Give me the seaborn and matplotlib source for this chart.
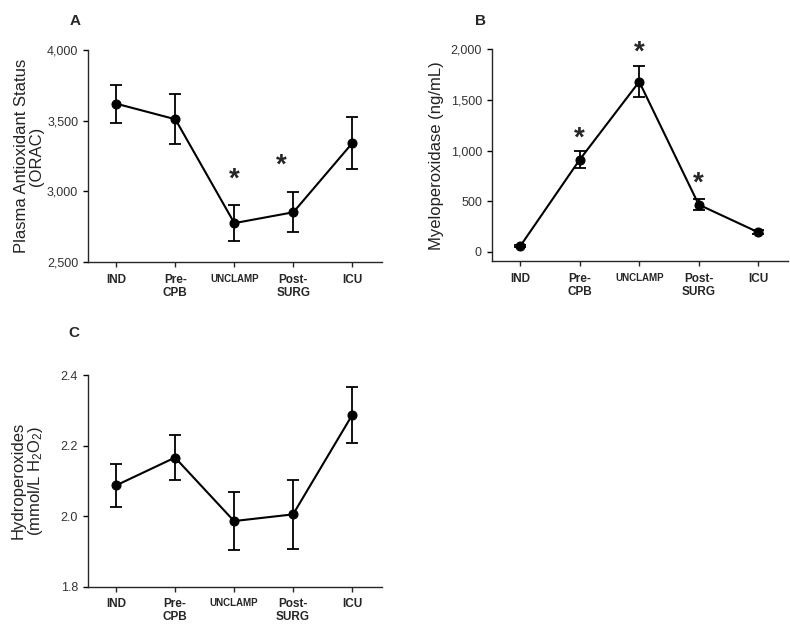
import numpy as np
import pandas as pd
import matplotlib
matplotlib.use("Agg")
import matplotlib.pyplot as plt
from matplotlib.ticker import StrMethodFormatter
import seaborn as sns

# --------------------------------------------------
categories = ["IND", "Pre-\nCPB", "UNCLAMP", "Post-\nSURG", "ICU"]

orac_mean = [3620, 3510, 2775, 2852, 3342]
orac_err = [135, 177, 128, 143, 186]
orac_star = ["UNCLAMP", "Post-\nSURG"]

mpo_mean = [55, 910, 1680, 465, 192]
mpo_err = [12, 85, 155, 53, 20]
mpo_star = ["Pre-\nCPB", "UNCLAMP", "Post-\nSURG"]

hp_mean = [2.087, 2.166, 1.986, 2.005, 2.286]
hp_err = [0.062, 0.064, 0.083, 0.097, 0.080]

sns.set_style("ticks")
plt.rcParams['font.family'] = ['Liberation Sans', 'DejaVu Sans']
plt.rcParams['mathtext.default'] = 'regular'

fig = plt.figure(figsize=(7.9, 6.25), dpi=100)
ax_a = fig.add_axes([0.1114, 0.5808, 0.372, 0.3392])
ax_b = fig.add_axes([0.6224, 0.5824, 0.375, 0.3387])
ax_c = fig.add_axes([0.1110, 0.0613, 0.372, 0.3387])


def draw_panel(ax, mean, err, ylim, yticks, ylabel, fmt, stars=None, star_y=None, star_dx=None):
    df = pd.DataFrame({"time": categories, "value": mean})
    sns.lineplot(data=df, x="time", y="value", ax=ax, color="black", lw=1.5,
                 marker="o", markersize=6.5, markeredgecolor="black", sort=False)
    ax.errorbar(np.arange(len(categories)), mean, yerr=err, fmt="none",
                ecolor="black", elinewidth=1.3, capsize=4, capthick=1.3)
    ax.set_xlim(-0.48, 4.5)
    ax.set_ylim(*ylim)
    ax.set_yticks(yticks)
    ax.yaxis.set_major_formatter(StrMethodFormatter(fmt))
    ax.set_xticks(range(len(categories)))
    ax.set_xticklabels(categories)
    for lab in ax.get_xticklabels():
        lab.set_fontweight("bold")
        lab.set_fontsize(7 if lab.get_text() == "UNCLAMP" else 8.5)
        lab.set_linespacing(1.1)
    ax.tick_params(axis="y", labelsize=9, length=3.5, width=1, colors="black")
    ax.tick_params(axis="x", length=3.5, width=1, pad=5)
    for lab in ax.get_yticklabels():
        lab.set_color("#333333")
    ax.set_xlabel("")
    ax.set_ylabel(ylabel, fontsize=12, linespacing=1.0, color="#222222")
    sns.despine(ax=ax)
    for sp in ["left", "bottom"]:
        ax.spines[sp].set_linewidth(1.0)
    if stars:
        for s, y, dx in zip(stars, star_y, star_dx):
            ax.text(categories.index(s) + dx, y, "*", ha="center", va="center",
                    fontsize=20, fontweight="bold")


draw_panel(ax_a, orac_mean, orac_err, (2500, 4000), [2500, 3000, 3500, 4000],
           "Plasma Antioxidant Status\n(ORAC)", "{x:,.0f}",
           orac_star, [3085, 3180], [0, -0.2])
ax_a.yaxis.set_label_coords(-0.15, 0.5)

draw_panel(ax_b, mpo_mean, mpo_err, (-92, 2000), [0, 500, 1000, 1500, 2000],
           "Myeloperoxidase (ng/mL)", "{x:,.0f}",
           mpo_star, [1115, 1970, 675], [0, 0, 0])
ax_b.yaxis.set_label_coords(-0.16, 0.5)

draw_panel(ax_c, hp_mean, hp_err, (1.8, 2.4), [1.8, 2.0, 2.2, 2.4],
           "Hydroperoxides\n(mmol/L H$_2$O$_2$)", "{x:.1f}")
ax_c.yaxis.set_label_coords(-0.145, 0.5)

fig.text(0.0886, 0.978, "A", fontsize=11, fontweight="bold", va="top")
fig.text(0.6013, 0.978, "B", fontsize=11, fontweight="bold", va="top")
fig.text(0.0861, 0.478, "C", fontsize=11, fontweight="bold", va="top")

fig.savefig("out.png", dpi=100)
